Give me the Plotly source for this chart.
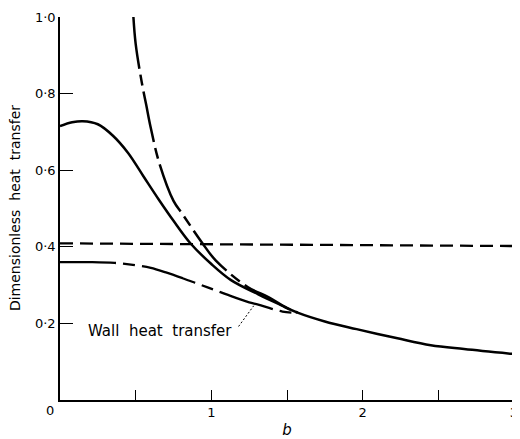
import plotly.graph_objects as go

# Upper solid curve (continues as the merged curve to b = 3)
upper_b = [0, 0.08, 0.15, 0.25, 0.35, 0.45, 0.55, 0.65, 0.75, 0.86, 1.0, 1.13, 1.31, 1.46, 1.57,
           1.75, 1.96, 2.23, 2.45, 2.67, 3.0]
upper_q = [0.715, 0.725, 0.728, 0.72, 0.69, 0.645, 0.585, 0.525, 0.468, 0.41, 0.355, 0.313, 0.276, 0.248, 0.228,
           0.205, 0.185, 0.161, 0.143, 0.133, 0.120]

# Long-dash asymptotic curve
asym_b = [0.485, 0.5, 0.54, 0.57, 0.60, 0.655, 0.75, 0.81, 0.94, 1.03, 1.24, 1.38, 1.5, 1.57]
asym_q = [1.0, 0.93, 0.83, 0.77, 0.71, 0.62, 0.52, 0.485, 0.41, 0.364, 0.295, 0.268, 0.24, 0.228]

# Short-dash near-constant line
flat_b = [0, 3]
flat_q = [0.409, 0.402]

# Wall heat transfer curve
wall_b = [0, 0.2, 0.36, 0.5, 0.6, 0.7, 0.81, 0.92, 1.03, 1.14, 1.25, 1.31, 1.4, 1.47, 1.53]
wall_q = [0.36, 0.36, 0.358, 0.352, 0.345, 0.333, 0.318, 0.302, 0.286, 0.27, 0.255, 0.249, 0.238, 0.231, 0.228]

x_tickvals = [0, 0.5, 1, 1.5, 2, 2.5, 3]
x_ticktext = ["", "", "1", "", "2", "", "3"]
y_tickvals = [0.2, 0.4, 0.6, 0.8, 1.0]
y_ticktext = ["0·2", "0·4", "0·6", "0·8", "1·0"]

FONT = "DejaVu Sans"
dash_pat = "52px,6px,11px,6px"

fig = go.Figure()
fig.add_trace(go.Scatter(x=flat_b, y=flat_q, mode="lines",
                         line=dict(color="black", width=2.3, dash="13px,7px")))
fig.add_trace(go.Scatter(x=wall_b, y=wall_q, mode="lines", line_shape="spline",
                         line=dict(color="black", width=2.3, dash="56px,7px,12px,7px")))
fig.add_trace(go.Scatter(x=asym_b, y=asym_q, mode="lines", line_shape="spline",
                         line=dict(color="black", width=2.5, dash=dash_pat)))
fig.add_trace(go.Scatter(x=upper_b, y=upper_q, mode="lines", line_shape="spline",
                         line=dict(color="black", width=2.5)))

fig.add_shape(type="line", x0=1.18, y0=0.192, x1=1.28, y1=0.246,
              line=dict(color="black", width=1, dash="2px,2px"))

fig.add_annotation(x=0.66, y=0.18, text="Wall  heat  transfer", showarrow=False,
                   font=dict(family=FONT, size=15, color="black"))
fig.add_annotation(xref="paper", yref="paper", x=-0.022, y=-0.028, text="0", showarrow=False,
                   xanchor="center", yanchor="middle",
                   font=dict(family=FONT, size=13, color="black"))
fig.add_annotation(xref="paper", yref="paper", x=-0.1, y=0.5,
                   text="Dimensionless  heat  transfer", showarrow=False, textangle=-90,
                   xanchor="center", yanchor="middle",
                   font=dict(family=FONT, size=14, color="black"))

# the page adds an 8px body margin, so the figure is sized to fit the 520x439 window
fig.update_layout(
    width=512, height=431,
    margin=dict(l=52, r=2, t=4, b=37),
    plot_bgcolor="white", paper_bgcolor="white",
    showlegend=False,
    font=dict(family=FONT, color="black"),
)
fig.update_xaxes(range=[0, 3], showgrid=False, zeroline=False,
                 showline=True, linecolor="black", linewidth=1.5,
                 ticks="inside", ticklen=10, tickwidth=1.3, tickcolor="black",
                 tickvals=x_tickvals, ticktext=x_ticktext, ticklabeloverflow="allow",
                 tickfont=dict(family=FONT, size=13),
                 title=dict(text="<i>b</i>", font=dict(family=FONT, size=15), standoff=6))
fig.update_yaxes(range=[0, 1.0], showgrid=False, zeroline=False,
                 showline=True, linecolor="black", linewidth=1.5,
                 ticks="inside", ticklen=13, tickwidth=1.3, tickcolor="black",
                 tickvals=y_tickvals, ticktext=y_ticktext, ticklabeloverflow="allow",
                 tickfont=dict(family=FONT, size=13))

fig.write_html("out.html")
